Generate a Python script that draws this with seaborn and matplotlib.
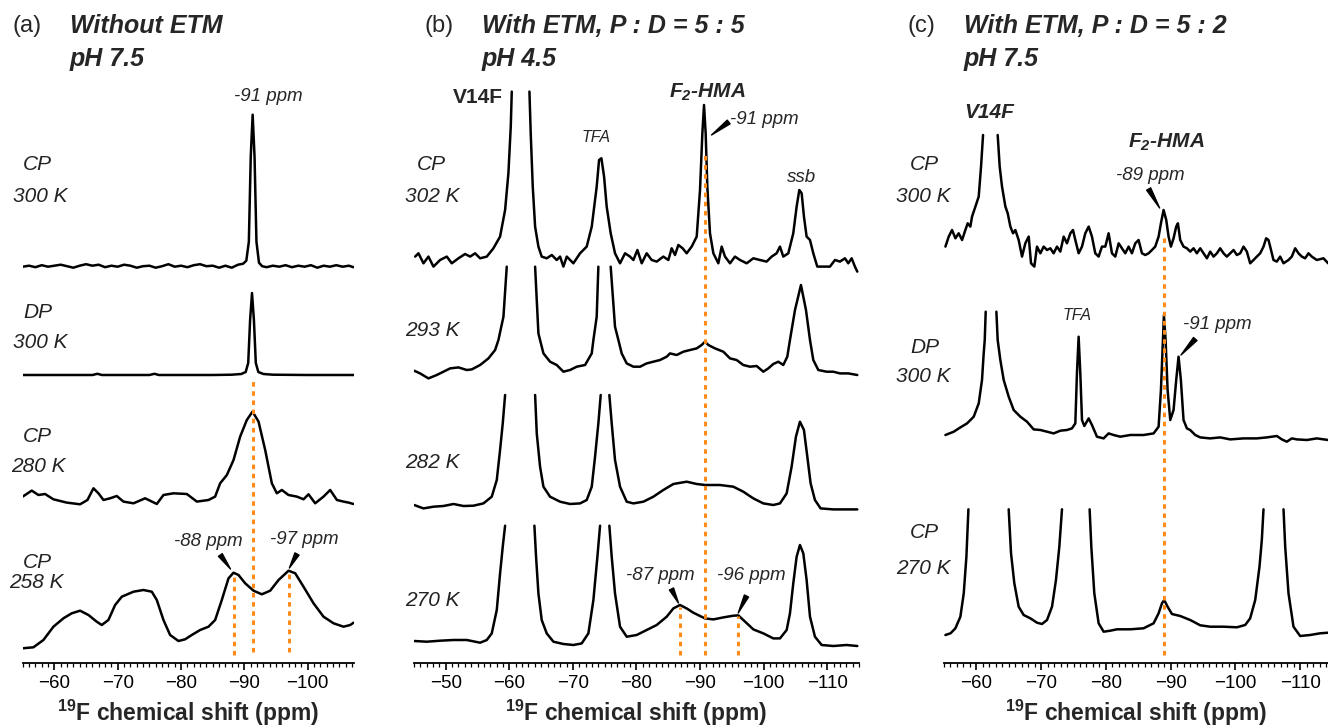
import numpy as np
import pandas as pd
import seaborn as sns
import matplotlib.pyplot as plt
from matplotlib.ticker import MultipleLocator

# 19F spectra: chemical shift (ppm) and intensity above the
# trace baseline (arbitrary units). nan = the peak is cut off there.
nan = np.nan

# --- (a) without ETM, pH 7.5 ---
a_cp300_ppm = [-55, -56, -57, -58, -59, -60, -61, -62, -63, -64,
               -65, -66, -67, -68, -69, -70, -71, -72, -73, -74,
               -75, -76, -77, -78, -79, -80, -81, -82, -83, -84,
               -85, -86, -87, -88, -89, -89.8, -90.3, -90.7, -91.0, -91.3,
               -91.6, -91.9, -92.3, -92.8, -93.5, -94.5, -95.5, -96.5, -97.5, -98.5,
               -99.5, -100.5, -101.5, -102.5, -103.5, -104.5, -105.5, -106.5, -107.2]
a_cp300_int = [0, 1, -0.5, 1.5, 0, 1, 2, 0.5, -1, 1,
               2.5, 1, 2, -0.5, 1, 0, 2, 1, -1, 0.5,
               1, -1, 0.5, 2.5, 0, 1, -0.5, 1.5, 2.5, 0.5,
               1, -1, 1, -1, 2, 3, 6, 25, 110, 152,
               110, 25, 4, 0.5, -0.5, 1, 0, 1.5, -0.5, 1,
               0, 1.5, -1, 1, 0, 1.5, 0, 1, -0.5]

a_dp300_ppm = [-55, -60, -66, -66.8, -67.5, -75, -75.8, -76.5, -85, -88, -89.5,
               -90.2, -90.6, -90.9, -91.2, -91.5, -91.8, -92.2, -93, -94.5, -100, -107.3]
a_dp300_int = [0, 0, 0, 1.2, 0, 0, 1.2, 0, 0, 0.3, 1,
               3, 12, 55, 82, 55, 12, 3, 1, 0.3, 0, 0]

a_cp280_ppm = [-55.0, -56.43, -57.48, -58.53, -59.85, -61.95, -64.06, -65.22, -66.17, -66.96,
               -67.75, -68.80, -69.85, -70.90, -72.49, -74.33, -76.17, -77.22, -78.80, -80.91,
               -82.49, -84.33, -85.38, -86.17, -87.23, -88.28, -89.33, -90.38, -91.28, -92.23,
               -93.28, -94.33, -95.12, -95.91, -96.96, -98.28, -99.33, -100.12, -101.17, -102.49,
               -103.54, -104.60, -105.65, -106.44, -107.23]
a_cp280_int = [6.7, 12.7, 8.3, 9.3, 4, 0.7, -1, 3.3, 15, 10,
               3.3, 5, 7.3, 1.7, 0, 5, -0.7, 8.3, 10, 9.3,
               1.7, 3.3, 6.7, 20, 28.3, 43.3, 66.7, 83.3, 91.7, 81.7,
               53.3, 20, 10, 13.3, 8.3, 6.7, 4, 9, 0, 6.7,
               13.3, 3.3, 1.7, 0.7, -0.7]

a_cp258_ppm = [-55.0, -56.69, -58.27, -59.85, -61.43, -62.74, -64.06, -65.38, -66.69, -67.48,
               -68.53, -69.59, -70.64, -72.49, -74.06, -75.38, -76.17, -77.22, -78.27, -79.59,
               -80.64, -81.69, -83.01, -84.33, -85.38, -86.43, -87.49, -88.28, -89.07, -90.12,
               -91.44, -92.75, -94.07, -95.39, -96.97, -98.02, -99.33, -100.91, -102.49, -104.07,
               -105.65, -106.70, -107.23]
a_cp258_int = [1.7, 2.7, 10, 23.3, 31.7, 36.7, 39.3, 35, 28.3, 25,
               30, 45, 53.3, 58.3, 60, 58.3, 50, 30, 15, 9,
               10.7, 15, 20, 23.3, 30, 50, 71.7, 77.3, 75, 66.7,
               59.3, 55.7, 59.3, 70, 79.3, 76.7, 63.3, 46.7, 33.3, 26.7,
               23.3, 25, 27.3]

# --- (b) with ETM, P:D = 5:5, pH 4.5 ---
b_302_ppm = [-45.18, -45.70, -46.49, -47.27, -48.06, -49.11, -50.16, -50.94, -51.99, -53.04,
             -53.83, -54.61, -55.40, -56.45, -57.49, -58.54, -59.33, -59.85, -60.22, -60.38,
             -61.8,
             -63.16, -63.36, -63.68, -64.05, -64.57, -65.09, -65.88, -66.67, -67.45, -67.98,
             -68.50, -69.03, -70.07, -71.12, -72.17, -72.96, -73.74, -74.11, -74.48, -74.90,
             -75.31, -75.94, -76.62, -77.41, -78.20, -78.98, -79.51, -80.14, -80.82, -81.60,
             -82.39, -83.18, -84.22, -85.01, -85.53, -86.06, -86.58, -87.26, -87.89, -88.68,
             -89.47, -89.99, -90.36, -90.62, -90.88, -91.14, -91.56, -92.09, -92.87, -93.40,
             -93.92, -94.71, -95.49, -96.28, -97.33, -98.38, -99.42, -100.47, -101.26, -102.04,
             -102.57, -103.09, -103.88, -104.66, -105.19, -105.61, -105.98, -106.34, -106.76, -107.29,
             -107.81, -108.44, -109.38, -110.43, -111.22, -112.00, -112.79, -113.31, -113.84, -114.36,
             -114.73]
b_302_int = [6.7, 10, 0, 6.7, -3.3, 3.3, 6.7, 0, 5, 9.3,
             6.7, 10, 5, 6.7, 15, 26.7, 53.3, 90, 136.7, 171.7,
             nan,
             171.7, 130, 76.7, 36.7, 16.7, 6.7, 5, 8.3, 3.3, 6.7,
             -3.3, 6.7, 0, 10, 16.7, 36.7, 76.7, 103.3, 105, 86.7,
             56.7, 30, 10, 0, 10, 6.7, 3.3, 13.3, 0, 10,
             3.3, 1.7, 6.7, 3.3, 15, 8.3, 18.3, 15, 10, 16.7,
             26.7, 73.3, 130, 158.3, 130, 76.7, 30, 10, 0, 16.7,
             6.7, 0, 6.7, 3.3, 0, 5, 3.3, 1.7, 6.7, 10,
             16.7, 6.7, 10, 30, 56.7, 73.3, 70, 46.7, 26.7, 23.3,
             10, -3.3, -3.3, -3.3, 3.3, 1.7, 5, 0, 5, -3.3,
             -8.3]

b_293_ppm = [-45.02, -45.96, -47.27, -48.58, -50.68, -51.99, -53.30, -54.09, -55.40, -56.71,
             -57.76, -58.28, -59.07, -59.59, -61.5,
             -64.05, -64.57, -64.83, -65.36, -66.40, -67.45, -68.50, -69.55, -70.60, -71.91,
             -72.96, -73.22, -73.74, -74.00, -75.0,
             -75.94, -76.62, -77.15, -77.67, -78.46, -79.51, -80.56, -81.60, -82.65, -83.70,
             -84.75, -85.27, -86.32, -87.37, -88.42, -89.47, -90.25, -90.78, -91.30, -92.35,
             -93.66, -94.71, -95.75, -96.80, -97.85, -98.90, -99.95, -100.73, -101.52, -102.31,
             -103.09, -103.72, -104.14, -104.93, -105.87, -106.66, -107.29, -107.81, -108.60, -109.91,
             -110.95, -112.00, -113.31, -114.73]
b_293_int = [1, -1.7, -6.7, -3.3, 3.3, 4.3, 1.7, 2.3, 6.7, 13.3,
             21.7, 31.7, 55, 105, nan,
             105, 38.3, 31.7, 18.3, 10, 6.7, 0, 1.7, 5, 6.7,
             18.3, 31.7, 55, 105, nan,
             105, 45, 31.7, 18.3, 8.3, 5, 5, 8.3, 10, 11.7,
             15, 18.3, 16.7, 20, 21.7, 23.3, 26.7, 30, 26.7, 23.3,
             20, 13.3, 11.7, 6.7, 5, 5.7, 0, 3.3, 7.7, 10,
             6.7, 15, 31.7, 61.7, 86.7, 61.7, 31.7, 11.7, 1.7, 0,
             0, -1.7, -1.7, -3.3]

b_282_ppm = [-45.02, -46.49, -48.06, -49.63, -51.21, -52.78, -54.35, -55.92, -57.23, -58.02,
             -58.54, -58.96, -59.33, -61.5,
             -64.05, -64.31, -64.83, -65.36, -66.40, -67.98, -69.55, -71.12, -72.17, -72.96,
             -73.48, -74.00, -74.37, -75.0,
             -75.73, -76.10, -76.62, -77.41, -78.46, -79.51, -81.08, -82.65, -84.22, -85.80,
             -87.89, -89.47, -90.78, -93.13, -95.23, -96.80, -98.38, -99.95, -101.52, -102.57,
             -103.62, -104.40, -105.08, -105.71, -106.34, -106.87, -107.39, -108.07, -108.96, -110.95,
             -113.05, -114.73]
b_282_int = [1.7, -1.7, 0, 0.7, 2.7, 0.7, 1, 3.3, 10, 26.7,
             56.7, 83.3, 111.7, nan,
             111.7, 73.3, 40, 20, 10, 5, 2.7, 3.3, 6.7, 20,
             50, 83.3, 111.7, nan,
             111.7, 83.3, 46.7, 20, 5, 3.3, 5, 10, 16.7, 22.7,
             25, 22.7, 21.7, 21.7, 20, 15, 8.3, 3.3, 1.7, 3.3,
             13.3, 40, 70, 85, 76.7, 50, 23.3, 6.7, -1.7, -2.7,
             -2.7, -2.7]

b_270_ppm = [-45.02, -47.01, -49.11, -51.21, -53.30, -55.40, -56.45, -57.23, -58.02, -58.54,
             -58.96, -59.33, -61.5,
             -63.94, -64.20, -64.57, -65.09, -65.88, -66.93, -68.50, -70.07, -71.38, -72.43,
             -73.22, -73.85, -74.27, -75.0,
             -75.73, -76.10, -76.62, -77.41, -78.46, -80.03, -81.60, -83.18, -84.75, -85.80,
             -86.84, -87.89, -88.94, -89.99, -90.78, -92.09, -93.66, -95.23, -96.02, -96.80,
             -98.38, -99.95, -101.52, -102.57, -103.62, -104.14, -104.66, -105.19, -105.71, -106.24,
             -106.76, -107.29, -108.07, -109.12, -110.95, -113.05, -114.73]
b_270_int = [0.7, 0, 1, 1.7, 1.7, -1, 1.7, 8.3, 31.7, 68.3,
             95, 116, nan,
             116, 85, 48.3, 21.7, 8.3, 0, -2.3, -3.3, -1.7, 8.3,
             41.7, 85, 116, nan,
             116, 85, 48.3, 15, 5, 6.7, 11.7, 16.7, 25, 33.3,
             36.7, 33.3, 29, 25.7, 23.3, 22.3, 24.3, 26, 26.3, 21.7,
             12.3, 8.3, 3.3, 3.3, 11.7, 28.3, 58.3, 85, 96.7, 88.3,
             61.7, 25, 5, -3.3, -4.3, -3.3, -4.3]

# --- (c) with ETM, P:D = 5:2, pH 7.5 ---
c_cp300_ppm = [-55.22, -55.73, -56.24, -56.76, -57.27, -57.79, -58.30, -58.66, -59.07, -59.33,
               -59.85, -60.36, -60.72, -61.03, -62.2,
               -63.29, -63.60, -63.96, -64.48, -64.84, -65.25, -65.66, -66.02, -66.53, -67.05,
               -67.56, -68.08, -68.44, -68.95, -69.36, -69.88, -70.39, -70.91, -71.42, -71.93,
               -72.45, -72.96, -73.48, -73.99, -74.51, -74.92, -75.28, -75.79, -76.31, -76.82,
               -77.34, -77.85, -78.36, -78.88, -79.39, -79.91, -80.42, -80.94, -81.45, -81.97,
               -82.48, -82.99, -83.51, -84.02, -84.54, -85.05, -85.57, -86.08, -86.60, -87.11,
               -87.62, -88.14, -88.50, -88.91, -89.32, -89.68, -90.04, -90.45, -90.86, -91.12,
               -91.48, -91.99, -92.51, -93.02, -93.54, -94.05, -94.57, -95.08, -95.60, -96.11,
               -96.63, -97.14, -97.65, -98.17, -98.68, -99.20, -99.71, -100.23, -100.74, -101.26,
               -101.77, -102.28, -102.80, -103.31, -103.83, -104.34, -104.75, -105.11, -105.37, -105.88,
               -106.40, -106.91, -107.43, -108.20, -108.71, -109.23, -109.74, -110.26, -110.77, -111.29,
               -111.80, -112.57, -113.60, -114.32]
c_cp300_int = [6.7, 16.7, 23.3, 15, 20, 13.3, 23.3, 30, 26.7, 36.7,
               46.7, 56.7, 86.7, 118.3, nan,
               118.3, 86.7, 66.7, 46.7, 40, 26.7, 20, 23.3, 13.3, -3.3,
               10, 16.7, -10, -13.3, 6.7, 0, 6.7, 3.3, 5, 0,
               6.7, 1.7, 16.7, 10, 20, 23.3, 13.3, 0, 6.7, 20,
               26.7, 16.7, 0, -3.3, 6.7, 6.7, 20, 0, -3.3, 10,
               5, 0, 6.7, 0, 10, 13.3, 0, -1.7, 0, 3.3,
               6.7, 16.7, 30, 43.3, 33.3, 16.7, 6.7, 15, 26.7, 30,
               13.3, 6.7, 5, 1.7, 5, 0, 5, 0, -5, 1.7,
               -3.3, 0, 5, 0, -3.3, 0, 3.3, -1.7, 0, 6.7,
               1.7, -10, -6.7, -3.3, 0, 6.7, 15, 13.3, 6.7, -6.7,
               -8.3, -3.3, -10, -6.7, -3.3, 5, 0, -3.3, -5, 0,
               -3.3, -6.7, -5, -10]

c_dp300_ppm = [-55.22, -56.50, -57.53, -58.56, -59.59, -60.36, -60.87, -61.13, -61.29, -61.44,
               -62.3,
               -63.09, -63.29, -63.70, -64.22, -64.99, -65.76, -66.79, -67.82, -68.85, -69.88,
               -70.91, -71.93, -72.96, -73.99, -74.76, -75.28, -75.53, -75.79, -76.05, -76.31,
               -76.67, -77.34, -77.85, -78.62, -79.65, -80.42, -81.19, -82.22, -83.77, -85.82,
               -87.37, -88.14, -88.50, -88.81, -88.96, -89.22, -89.53, -89.94, -90.45, -90.86,
               -91.22, -91.58, -91.99, -92.51, -93.02, -93.80, -94.57, -96.11, -97.65, -99.20,
               -101.26, -103.31, -104.86, -106.40, -107.17, -107.94, -108.71, -109.49, -111.03, -112.57,
               -114.32]
c_dp300_int = [1.7, 5, 9.3, 13.3, 20, 33.3, 56.7, 83.3, 96.7, 125,
               nan,
               125, 96.7, 76.7, 56.7, 40, 26.7, 20, 15, 7.3, 6.7,
               5, 3.3, 6, 6.7, 8.3, 13.3, 63.3, 100, 63.3, 16.7,
               10.7, 18.3, 11.7, 0, -1.7, 3.3, 1.7, 0, 1.7, 1.7,
               3.3, 10, 46.7, 96.7, 121.7, 96.7, 46.7, 16.7, 26.7, 56.7,
               80, 56.7, 16.7, 8.3, 6.7, 1.7, -0.7, -1.7, -0.7, -2.7,
               -1.7, -1.7, -0.7, 0.7, -2.7, -5, -1.7, -2.7, -3.3, -1.7,
               -3.3]

c_cp270_ppm = [-55.22, -56.01, -56.76, -57.53, -58.05, -58.46, -58.77, -62.0,
               -64.99, -65.35, -65.86, -66.53, -67.30, -68.33, -69.36, -70.13, -70.91, -71.68,
               -72.29, -72.81, -73.22, -75.0,
               -77.49, -77.75, -78.21, -78.88, -79.65, -80.68, -81.71, -83.77, -85.82, -87.37,
               -88.14, -88.66, -89.01, -89.53, -90.20, -91.48, -93.02, -94.57, -96.11, -98.17,
               -100.23, -101.51, -102.28, -103.06, -103.72, -104.08, -104.34, -106.0,
               -107.43, -107.69, -108.20, -108.97, -110.00, -111.54, -113.09, -114.32]
c_cp270_int = [-5, -3.3, 1.7, 13.3, 36.7, 73.3, 120.7, nan,
               120.7, 76.7, 46.7, 23.3, 15, 11.7, 7.3, 6, 10, 23.3,
               50, 83.3, 120.7, nan,
               120.7, 83.3, 36.7, 6.7, -1.7, -0.7, 0.7, 0.7, 1.7, 6.7,
               16.7, 26.7, 30, 23.3, 16, 14, 10, 4.7, 3.3, 3.3,
               2.7, 5, 11.7, 30, 63.3, 90, 120.7, nan,
               120.7, 83.3, 36.7, 3.3, -6, -5, -3.3, -2.7]

# peak positions marked with orange dotted lines (ppm)
a_marks = [-91.3, -88.3, -97.0]
b_marks = [-90.7, -86.9, -96.0]
c_marks = [-88.9]

# ------------------------------------------------------------------
W, H = 1328, 726
ORANGE = "#ff8c1a"

sns.set_theme(style="ticks")
plt.rcParams["font.family"] = ["Liberation Sans", "DejaVu Sans"]
plt.rcParams["mathtext.default"] = "regular"
plt.rcParams["axes.edgecolor"] = "black"
plt.rcParams["xtick.color"] = "black"

fig = plt.figure(figsize=(W / 100, H / 100), dpi=100)


def draw_trace(ax, ppm, inten, base):
    df = pd.DataFrame({"ppm": ppm, "y": np.asarray(inten, float) + base})
    df["seg"] = df["y"].isna().cumsum()
    for _, part in df.dropna().groupby("seg"):
        sns.lineplot(data=part, x="ppm", y="y", ax=ax, color="black",
                     linewidth=1.8, sort=False, estimator=None)


def style_axis(ax, xlim):
    ax.set_xlim(*xlim)
    ax.set_ylim(0, 578)
    ax.patch.set_visible(False)
    sns.despine(ax=ax, left=True)
    ax.spines["bottom"].set_linewidth(1.3)
    ax.set_yticks([])
    ax.set_ylabel("")
    ax.xaxis.set_major_locator(MultipleLocator(10))
    ax.xaxis.set_minor_locator(MultipleLocator(1))
    ax.tick_params(axis="x", which="major", direction="out", length=5, width=1.2,
                   labelsize=13.5, pad=4)
    ax.tick_params(axis="x", which="minor", direction="out", length=3, width=0.9)
    ax.set_xlabel(r"$^{19}$F chemical shift (ppm)", fontsize=16.5,
                  fontweight="bold", labelpad=4)


def ftext(x, y, s, **kw):
    kw.setdefault("va", "center")
    fig.text(x / W, 1 - y / H, s, **kw)


def wedge(ax, tail, tip):
    ax.annotate("", xy=tip, xytext=tail,
                arrowprops=dict(arrowstyle="wedge,tail_width=0.28", color="black",
                                shrinkA=0, shrinkB=0, mutation_scale=12))


def marks(ax, xs, lows, highs):
    ax.vlines(xs, lows, highs, colors=ORANGE, linestyles=(0, (1.5, 1.5)),
              linewidth=2.2, zorder=4)


PPM_SIZE = 13.5

axA = fig.add_axes([22.7 / W, 63 / H, 331.3 / W, 578 / H])
axB = fig.add_axes([414 / W, 63 / H, 445 / W, 578 / H])
axC = fig.add_axes([944 / W, 63 / H, 384 / W, 578 / H])

# ---- (a)
draw_trace(axA, a_cp300_ppm, a_cp300_int, 396.3)
draw_trace(axA, a_dp300_ppm, a_dp300_int, 288)
draw_trace(axA, a_cp280_ppm, a_cp280_int, 159.7)
draw_trace(axA, a_cp258_ppm, a_cp258_int, 13)
marks(axA, a_marks, [11, 8, 11], [283, 90, 92])
style_axis(axA, (-55, -107.3))
axA.text(-93.8, 566, "-91 ppm", style="italic", fontsize=PPM_SIZE, ha="center", va="center")
axA.text(-84.3, 122, "-88 ppm", style="italic", fontsize=PPM_SIZE, ha="center", va="center")
axA.text(-99.45, 124, "-97 ppm", style="italic", fontsize=PPM_SIZE, ha="center", va="center")
wedge(axA, (-86.2, 108), (-87.8, 94))
wedge(axA, (-98.3, 109), (-97.1, 95))

# ---- (b)
draw_trace(axB, b_302_ppm, b_302_int, 399.7)
draw_trace(axB, b_293_ppm, b_293_int, 291.3)
draw_trace(axB, b_282_ppm, b_282_int, 156.3)
draw_trace(axB, b_270_ppm, b_270_int, 21.3)
marks(axB, b_marks, [8, 8, 8], [510, 56, 47])
style_axis(axB, (-45, -115))
axB.text(-55.1, 565, "V14F", fontweight="bold", fontsize=15, ha="center", va="center")
axB.text(-73.6, 525, "TFA", style="italic", fontsize=11.5, ha="center", va="center")
axB.text(-91.1, 571, "F$_2$-HMA", fontweight="bold", style="italic", fontsize=15,
         ha="center", va="center")
axB.text(-94.7, 543, "-91 ppm", style="italic", fontsize=PPM_SIZE, ha="left", va="center")
wedge(axB, (-94.5, 541), (-91.8, 528))
axB.text(-106.0, 485, "ssb", style="italic", fontsize=13.5, ha="center", va="center")
axB.text(-83.7, 88, "-87 ppm", style="italic", fontsize=PPM_SIZE, ha="center", va="center")
wedge(axB, (-85.5, 74), (-86.6, 60))
axB.text(-98.1, 88, "-96 ppm", style="italic", fontsize=PPM_SIZE, ha="center", va="center")
wedge(axB, (-97.3, 67), (-96.0, 50))

# ---- (c)
draw_trace(axC, c_cp300_ppm, c_cp300_int, 409.7)
draw_trace(axC, c_dp300_ppm, c_dp300_int, 226.3)
draw_trace(axC, c_cp270_ppm, c_cp270_int, 33)
marks(axC, c_marks, [8], [426])
style_axis(axC, (-55, -114.3))
axC.text(-62.0, 550, "V14F", fontweight="bold", style="italic", fontsize=15,
         ha="center", va="center")
axC.text(-89.4, 521, "F$_2$-HMA", fontweight="bold", style="italic", fontsize=15,
         ha="center", va="center")
axC.text(-86.9, 487, "-89 ppm", style="italic", fontsize=PPM_SIZE, ha="center", va="center")
wedge(axC, (-86.6, 474), (-88.3, 455))
axC.text(-75.5, 347, "TFA", style="italic", fontsize=11.5, ha="center", va="center")
axC.text(-91.9, 338, "-91 ppm", style="italic", fontsize=PPM_SIZE, ha="left", va="center")
wedge(axC, (-93.8, 324), (-91.6, 308))

# ---- panel titles
for x0, letter, x1, line1, line2 in [
        (13, "(a)", 70, "Without ETM", "pH 7.5"),
        (425, "(b)", 482, "With ETM, P : D = 5 : 5", "pH 4.5"),
        (908, "(c)", 964, "With ETM, P : D = 5 : 2", "pH 7.5")]:
    ftext(x0, 26, letter, fontsize=17)
    ftext(x1, 26, line1, fontsize=18, fontweight="bold", style="italic")
    ftext(x1, 59, line2, fontsize=18, fontweight="bold", style="italic")

# ---- condition labels
cond_labels = [
    (23, 165, "CP"), (13, 196, "300 K"), (23, 312, "DP"), (13, 343, "300 K"),
    (23, 436, "CP"), (11, 467, "280 K"), (23, 562, "CP"), (9, 582, "258 K"),
    (417, 165, "CP"), (405, 196, "302 K"), (405, 331, "293 K"),
    (405, 463, "282 K"), (405, 600, "270 K"),
    (910, 165, "CP"), (896, 196, "300 K"), (910, 348, "DP"), (896, 376, "300 K"),
    (910, 533, "CP"), (896, 568, "270 K"),
]
for x, y, s in cond_labels:
    ftext(x, y, s, fontsize=15, style="italic", color="#222222")

fig.savefig("out.png", dpi=100)
